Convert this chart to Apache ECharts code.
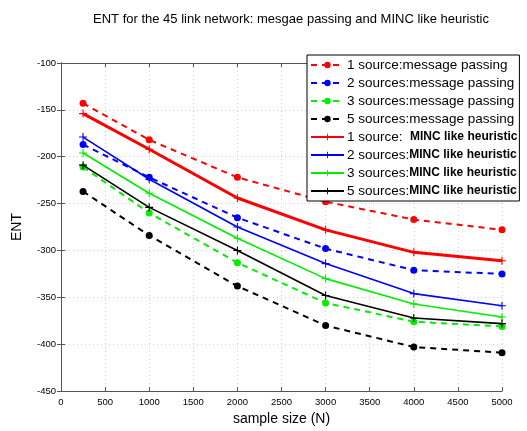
<!DOCTYPE html>
<html>
<head>
<meta charset="utf-8">
<script src="https://cdn.jsdelivr.net/npm/echarts@6/dist/echarts.min.js"></script>
<style>html,body{margin:0;padding:0;background:#fff;}#c{width:527px;height:431px;}</style>
</head>
<body>
<div id="c"></div>
<script>
var xs = [250, 1000, 2000, 3000, 4000, 5000];
var mp1 = [-143, -182, -222, -248, -267, -278];
var mp2 = [-187, -222, -265, -298, -321, -325];
var mp3 = [-211, -260, -313, -356, -376, -381];
var mp5 = [-237, -284, -338, -380, -403, -409];
var mh1 = [-154, -192, -244, -278, -302, -311];
var mh2 = [-179, -224, -275, -314, -346, -359];
var mh3 = [-196, -239, -287, -330, -357, -371];
var mh5 = [-209, -254, -300, -348, -372, -378];
var names = ['1 source:message passing', '2 sources:message passing', '3 sources:message passing', '5 sources:message passing',
             '1 source:  |MINC like heuristic', '2 sources:|MINC like heuristic', '3 sources:|MINC like heuristic', '5 sources:|MINC like heuristic'];
var colors = ['#ff0000', '#0000ff', '#00ee00', '#000000'];
var title = 'ENT for the 45 link network: mesgae passing and MINC like heuristic';
var xName = 'sample size (N)';
var yName = 'ENT';

function pairs(v) { return xs.map(function (x, i) { return [x, v[i]]; }); }
var plus = 'path://M4.3,0H5.7V4.3H10V5.7H5.7V10H4.3V5.7H0V4.3H4.3Z';
var mpSets = [mp1, mp2, mp3, mp5];
var mhSets = [mh1, mh2, mh3, mh5];
var series = [];
mpSets.forEach(function (v, i) {
  series.push({
    name: names[i], type: 'line', data: pairs(v), symbol: 'circle', symbolSize: 7,
    itemStyle: { color: colors[i] }, lineStyle: { color: colors[i], width: 2, type: [6, 5] }, z: 3
  });
});
mhSets.forEach(function (v, i) {
  series.push({
    name: names[4 + i], type: 'line', data: pairs(v), symbol: plus, symbolSize: 8,
    itemStyle: { color: colors[i] }, lineStyle: { color: colors[i], width: i === 0 ? 3 : 1.6, type: 'solid' }, z: 4
  });
});

var chart = echarts.init(document.getElementById('c'), null, { renderer: 'canvas' });
var axisText = { color: '#000', fontSize: 9.5, fontFamily: 'Liberation Sans, Arial', formatter: function (v) { return String(v); } };
var edge = '#555';
chart.setOption({
  backgroundColor: '#fff',
  animation: false,
  title: { text: title, left: 286, textAlign: 'center', top: 8,
    textStyle: { fontSize: 13, fontWeight: 'normal', color: '#000', fontFamily: 'Liberation Sans, Arial' } },
  grid: { left: 61, right: 25, top: 63, bottom: 33, show: false },
  legend: {
    data: names, orient: 'vertical', left: 307, top: 55,
    itemWidth: 33, itemHeight: 8, itemGap: 4,
    backgroundColor: '#fff', borderColor: '#000', borderWidth: 1, padding: [3, 2, 3, 3],
    formatter: function (n) {
      var p = n.split('|');
      if (p.length > 1) return '{a|' + p[0] + '}{b|' + p[1] + '}';
      return '{a|' + n + '}';
    },
    textStyle: {
      padding: [0, 0, 0, -2],
      rich: {
        a: { fontSize: 13.5, lineHeight: 14, color: '#000', fontFamily: 'Liberation Sans, Arial' },
        b: { fontSize: 12, lineHeight: 14, fontWeight: 'bold', color: '#000', fontFamily: 'Liberation Sans, Arial' }
      }
    }
  },
  xAxis: [{
    type: 'value', min: 0, max: 5000, interval: 500, position: 'bottom',
    name: xName, nameLocation: 'middle', nameGap: 14,
    nameTextStyle: { fontSize: 14, color: '#000', fontFamily: 'Liberation Sans, Arial' },
    axisLine: { show: true, lineStyle: { color: edge } },
    axisTick: { show: true, inside: true, length: 4, lineStyle: { color: edge } },
    axisLabel: Object.assign({ margin: 6 }, axisText),
    splitLine: { show: true, lineStyle: { color: '#d0d0d0', type: [1, 3] } }
  }, {
    type: 'value', min: 0, max: 5000, interval: 500, position: 'top',
    axisLine: { show: true, lineStyle: { color: edge } },
    axisTick: { show: true, inside: true, length: 4, lineStyle: { color: edge } },
    axisLabel: { show: false }, splitLine: { show: false }
  }],
  yAxis: [{
    type: 'value', min: -450, max: -100, interval: 50, position: 'left',
    name: yName, nameLocation: 'middle', nameGap: 37, nameRotate: 90,
    nameTextStyle: { fontSize: 14, color: '#000', fontFamily: 'Liberation Sans, Arial' },
    axisLine: { show: true, lineStyle: { color: edge } },
    axisTick: { show: true, inside: true, length: 4, lineStyle: { color: edge } },
    axisLabel: Object.assign({ margin: 5 }, axisText),
    splitLine: { show: true, lineStyle: { color: '#d0d0d0', type: [1, 3] } }
  }, {
    type: 'value', min: -450, max: -100, interval: 50, position: 'right',
    axisLine: { show: true, lineStyle: { color: edge } },
    axisTick: { show: true, inside: true, length: 4, lineStyle: { color: edge } },
    axisLabel: { show: false }, splitLine: { show: false }
  }],
  series: series
});
</script>
</body>
</html>
